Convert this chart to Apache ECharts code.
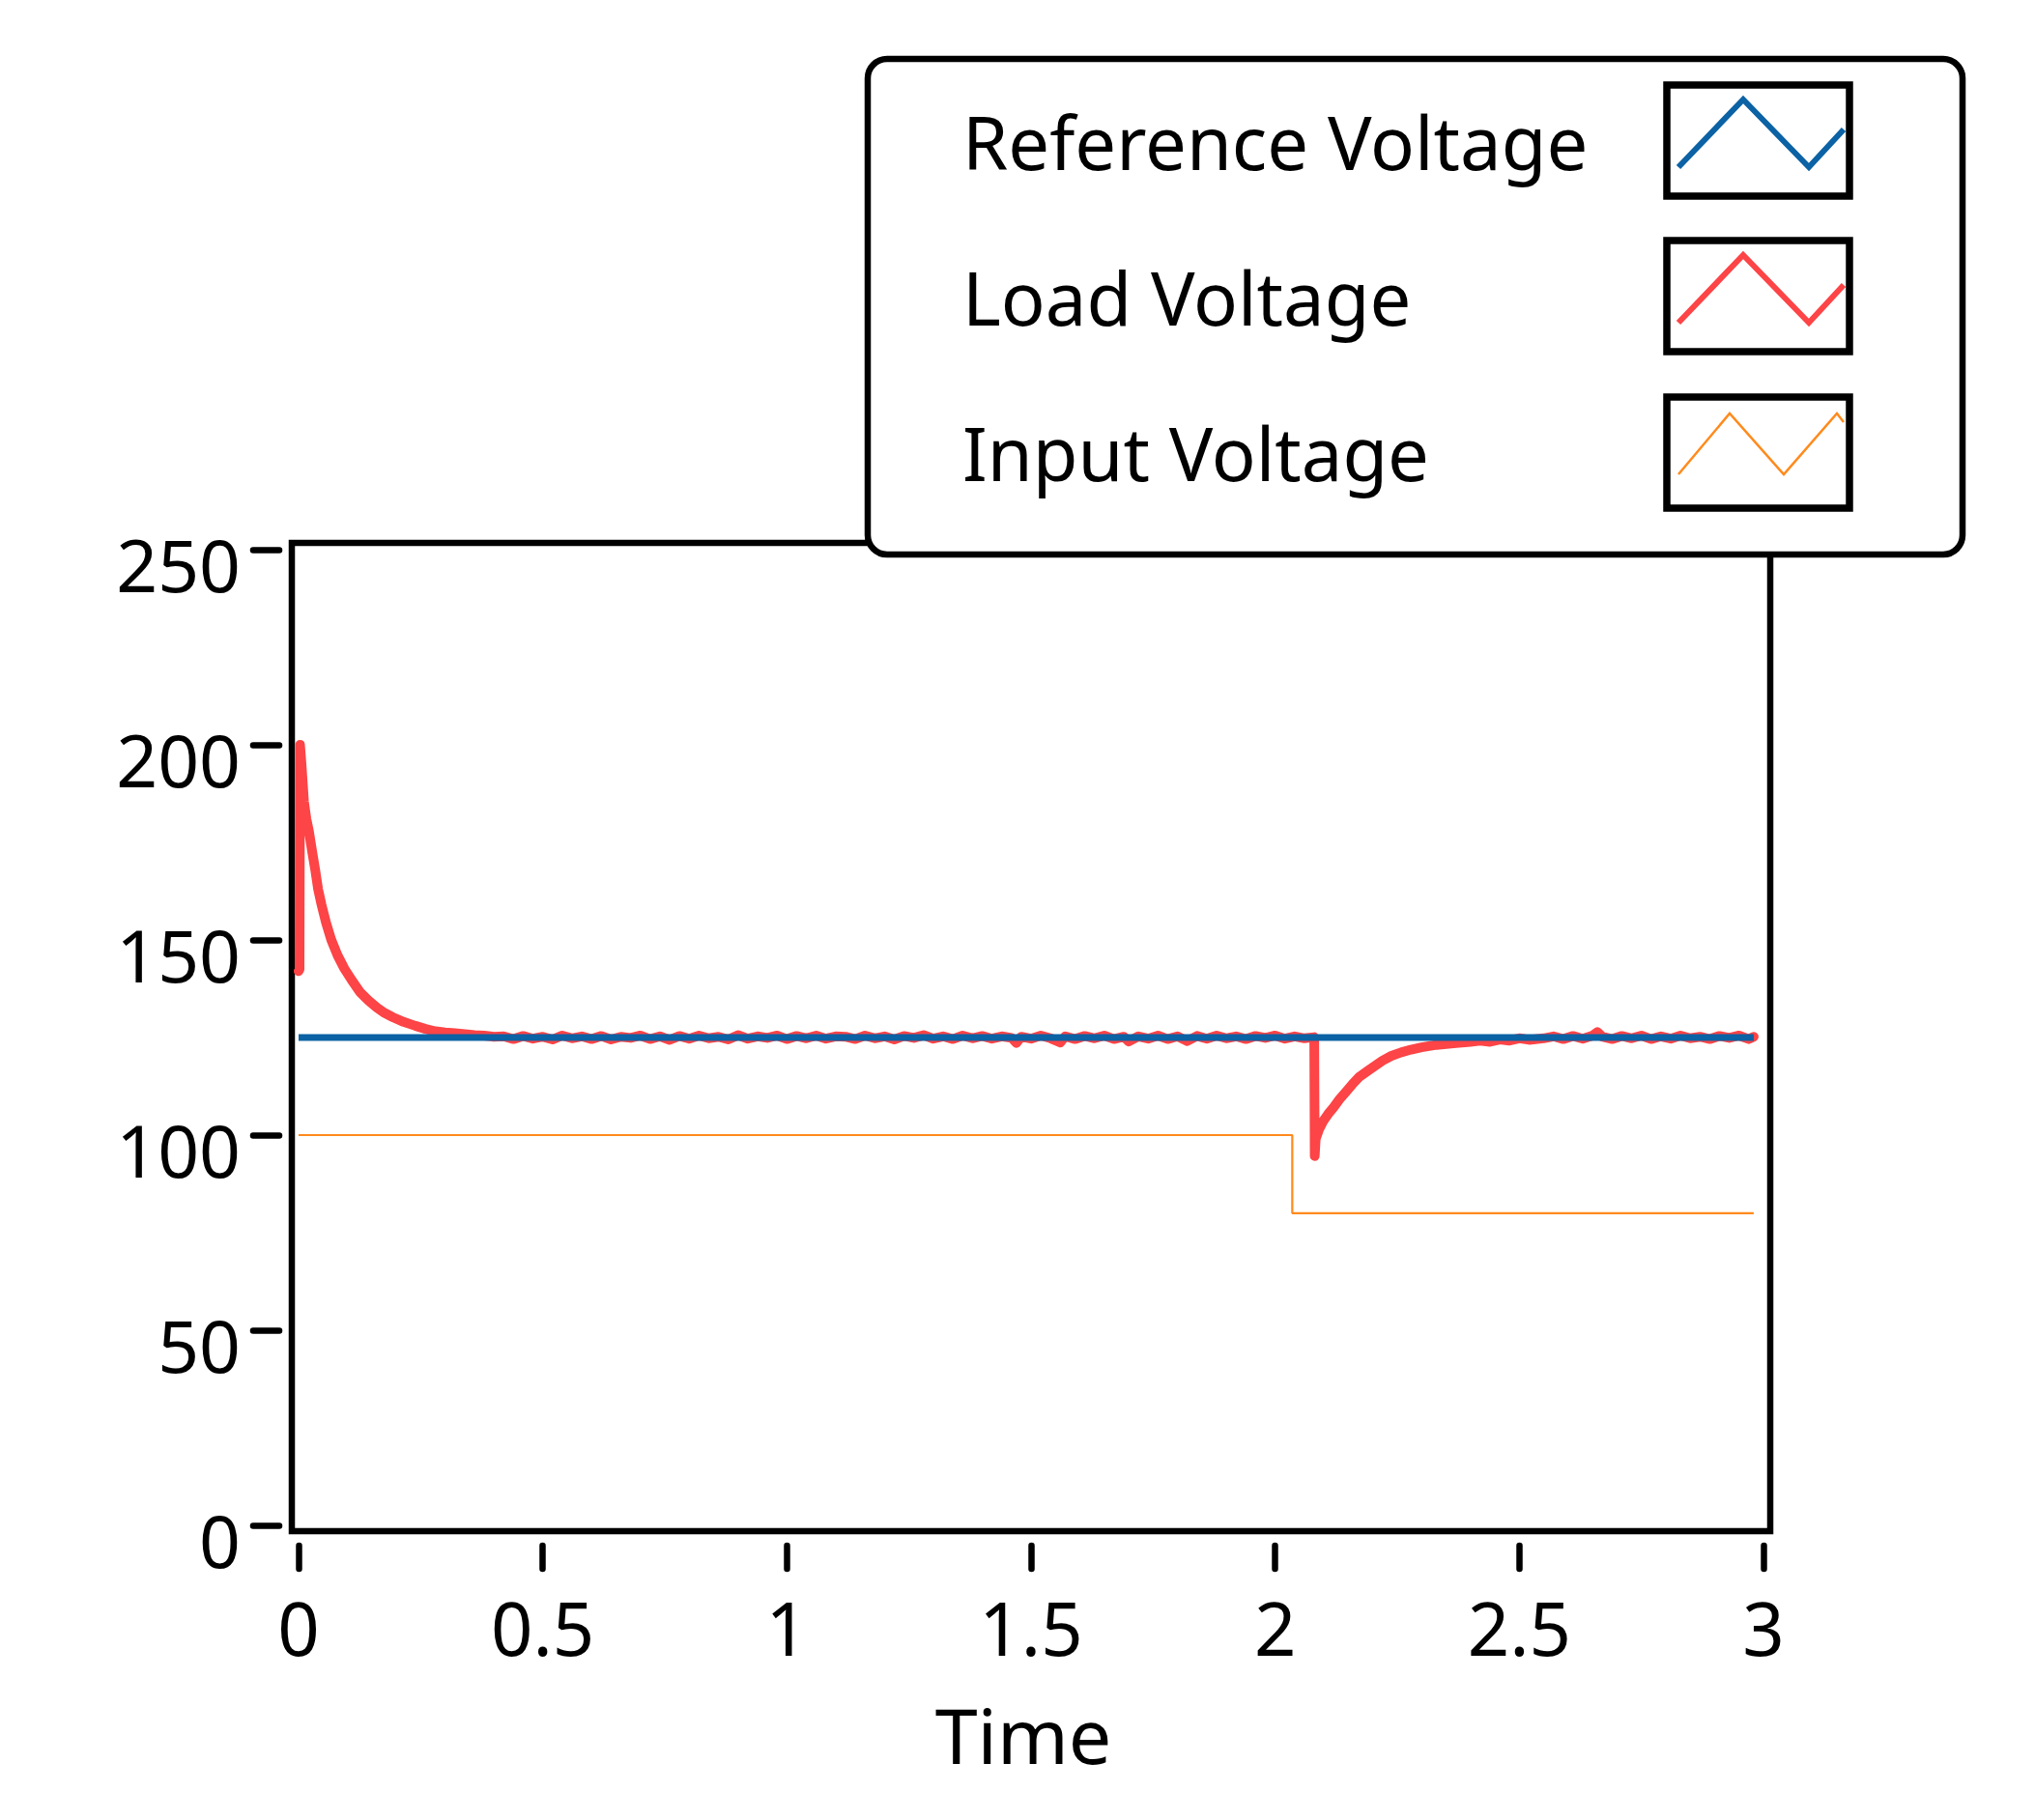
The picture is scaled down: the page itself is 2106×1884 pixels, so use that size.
<!DOCTYPE html>
<html>
<head>
<meta charset="utf-8">
<script src="https://cdn.jsdelivr.net/npm/echarts@6/dist/echarts.min.js"></script>
<style>
html,body{margin:0;padding:0;background:#fff;overflow:hidden;}
#chart{width:2106px;height:1884px;}
</style>
</head>
<body>
<div id="chart"></div>
<script>
// ---- data ----
const seriesNames = ['Reference Voltage', 'Load Voltage', 'Input Voltage'];
const xTicks = [0, 0.5, 1, 1.5, 2, 2.5, 3];
const yTicks = [0, 50, 100, 150, 200, 250];

const referenceVoltage = [[0, 125], [2.98, 125]];

const inputVoltage = [[0, 100], [2.035, 100], [2.035, 80], [2.98, 80]];

const loadVoltage = [
  [0, 142], [0.002, 142.5], [0.003, 200], [0.006, 195], [0.011, 185.5], [0.016, 181],
  [0.021, 178], [0.028, 172.5], [0.034, 168], [0.040, 163], [0.047, 159], [0.056, 154.5],
  [0.067, 150], [0.080, 146], [0.094, 142.6], [0.110, 139.5], [0.126, 136.6], [0.143, 134.5],
  [0.160, 132.7], [0.176, 131.3], [0.193, 130.2], [0.215, 129], [0.239, 128], [0.260, 127.2],
  [0.280, 126.6], [0.300, 126.3], [0.320, 126.1], [0.340, 125.9], [0.360, 125.6], [0.380, 125.5],
  [0.40, 125.2], [0.42, 125.3], [0.44, 124.6], [0.46, 125.4], [0.48, 124.7], [0.50, 125.2],
  [0.52, 124.5], [0.54, 125.5], [0.56, 124.8], [0.58, 125.3], [0.60, 124.6], [0.62, 125.4],
  [0.64, 124.5], [0.66, 125.2], [0.68, 124.9], [0.70, 125.5], [0.72, 124.6], [0.74, 125.3],
  [0.76, 124.4], [0.78, 125.4], [0.80, 124.7], [0.82, 125.5], [0.84, 124.8], [0.86, 125.2],
  [0.88, 124.5], [0.90, 125.6], [0.92, 124.7], [0.94, 125.3], [0.96, 124.9], [0.98, 125.5],
  [1.00, 124.6], [1.02, 125.4], [1.04, 124.8], [1.06, 125.5], [1.08, 124.7], [1.10, 125.3],
  [1.12, 125.2], [1.14, 124.6], [1.16, 125.5], [1.18, 124.8], [1.20, 125.3], [1.22, 124.5],
  [1.24, 125.4], [1.26, 124.9], [1.28, 125.6], [1.30, 124.7], [1.32, 125.3], [1.34, 124.6],
  [1.36, 125.5], [1.38, 124.8], [1.40, 125.4], [1.42, 124.7], [1.44, 125.3], [1.46, 124.9],
  [1.47, 123.6], [1.48, 125.2], [1.50, 124.7], [1.52, 125.5], [1.54, 124.8], [1.56, 123.7],
  [1.57, 125.3], [1.59, 124.6], [1.61, 125.4], [1.63, 124.8], [1.65, 125.5], [1.67, 124.6],
  [1.69, 125.2], [1.70, 124.0], [1.72, 125.3], [1.74, 124.7], [1.76, 125.5], [1.78, 124.6],
  [1.80, 125.3], [1.82, 124.1], [1.84, 125.4], [1.86, 124.7], [1.88, 125.5], [1.90, 124.8],
  [1.92, 125.3], [1.94, 124.6], [1.96, 125.4], [1.98, 124.9], [2.00, 125.5], [2.02, 124.7],
  [2.04, 125.3], [2.06, 124.8], [2.08, 125.1],
  [2.081, 94.6], [2.083, 99], [2.090, 101.5], [2.099, 103.7], [2.109, 105.5], [2.119, 107],
  [2.132, 109.2], [2.145, 111.1], [2.158, 113], [2.172, 114.9], [2.190, 116.5], [2.205, 117.8],
  [2.220, 119.1], [2.238, 120.3], [2.258, 121.2], [2.278, 121.9], [2.300, 122.5], [2.330, 123.1],
  [2.370, 123.6], [2.400, 123.9], [2.420, 124.2], [2.440, 123.9], [2.460, 124.5], [2.480, 124.2],
  [2.500, 124.8], [2.520, 124.4], [2.55, 124.8], [2.57, 125.3], [2.59, 124.6], [2.61, 125.4],
  [2.63, 124.7], [2.65, 125.5], [2.66, 126.4], [2.67, 125.2], [2.69, 124.6], [2.71, 125.4],
  [2.73, 124.8], [2.75, 125.5], [2.77, 124.6], [2.79, 125.3], [2.81, 124.7], [2.83, 125.5],
  [2.85, 124.8], [2.87, 125.2], [2.89, 124.6], [2.91, 125.4], [2.93, 124.9], [2.95, 125.5],
  [2.97, 124.6], [2.98, 125.2]
];

const colors = {ref: '#0b62a4', load: '#fd4446', input: '#ff8a1c'};

// ---- chart ----
const chart = echarts.init(document.getElementById('chart'), null, {renderer: 'svg'});
const FONT = 'Noto Sans';

const legendRows = [
  {name: seriesNames[0], color: colors.ref, width: 6, textY: 146, boxY: 88,
   pts: [[1737, 173], [1804, 103], [1872, 173], [1908, 134]]},
  {name: seriesNames[1], color: colors.load, width: 6, textY: 307, boxY: 249,
   pts: [[1737, 334], [1804, 264], [1872, 334], [1908, 295]]},
  {name: seriesNames[2], color: colors.input, width: 2.5, textY: 468, boxY: 411,
   pts: [[1737, 491], [1790, 428], [1846, 491], [1901, 428], [1908, 437]]}
];

const graphics = [
  {type: 'rect', z: 0, shape: {x: 302, y: 562, width: 1530, height: 1023},
   style: {fill: 'none', stroke: '#000', lineWidth: 6.5}},
  {type: 'rect', z: 50, shape: {x: 898, y: 61, width: 1133, height: 513, r: 20},
   style: {fill: '#fff', stroke: '#000', lineWidth: 6.5}}
];
legendRows.forEach(r => {
  graphics.push({type: 'text', z: 51, style: {text: r.name, x: 996, y: r.textY,
    fill: '#000', font: '76px "' + FONT + '"', verticalAlign: 'middle', align: 'left'}});
  graphics.push({type: 'rect', z: 51, shape: {x: 1725, y: r.boxY, width: 189, height: 115},
    style: {fill: '#fff', stroke: '#000', lineWidth: 7.5}});
  graphics.push({type: 'polyline', z: 52, shape: {points: r.pts},
    style: {fill: 'none', stroke: r.color, lineWidth: r.width}});
});

const option = {
  animation: false,
  backgroundColor: '#fff',
  textStyle: {fontFamily: FONT},
  grid: {left: 309, right: 281, top: 569, bottom: 305, containLabel: false},
  xAxis: {
    type: 'value', min: xTicks[0], max: xTicks[xTicks.length - 1], interval: 0.5,
    name: 'Time', nameLocation: 'middle', nameGap: 177,
    nameTextStyle: {fontSize: 79, color: '#000', fontFamily: FONT, padding: [0, 16, 0, 0]},
    axisLine: {show: false},
    axisTick: {show: true, length: 50,
      lineStyle: {color: '#000', width: 6.5, cap: 'round', type: [24, 1000], dashOffset: 1003}},
    axisLabel: {fontSize: 76, color: '#000', margin: 67, fontFamily: FONT},
    splitLine: {show: false}
  },
  yAxis: {
    type: 'value', min: yTicks[0], max: yTicks[yTicks.length - 1], interval: 50,
    axisLine: {show: false},
    axisTick: {show: true, length: 51,
      lineStyle: {color: '#000', width: 6.5, cap: 'round', type: [27, 1000], dashOffset: 1006.5}},
    axisLabel: {fontSize: 75, color: '#000', margin: 60, fontFamily: FONT,
      verticalAlign: 'top', lineHeight: 29},
    splitLine: {show: false}
  },
  series: [
    {name: seriesNames[2], type: 'line', data: inputVoltage, showSymbol: false,
     lineStyle: {color: colors.input, width: 2.2}, itemStyle: {color: colors.input}, z: 2},
    {name: seriesNames[1], type: 'line', data: loadVoltage, showSymbol: false,
     lineStyle: {color: colors.load, width: 10, cap: 'round', join: 'round'}, itemStyle: {color: colors.load}, z: 3},
    {name: seriesNames[0], type: 'line', data: referenceVoltage, showSymbol: false,
     lineStyle: {color: colors.ref, width: 7}, itemStyle: {color: colors.ref}, z: 4}
  ],
  graphic: graphics
};
chart.setOption(option);
</script>
</body>
</html>
